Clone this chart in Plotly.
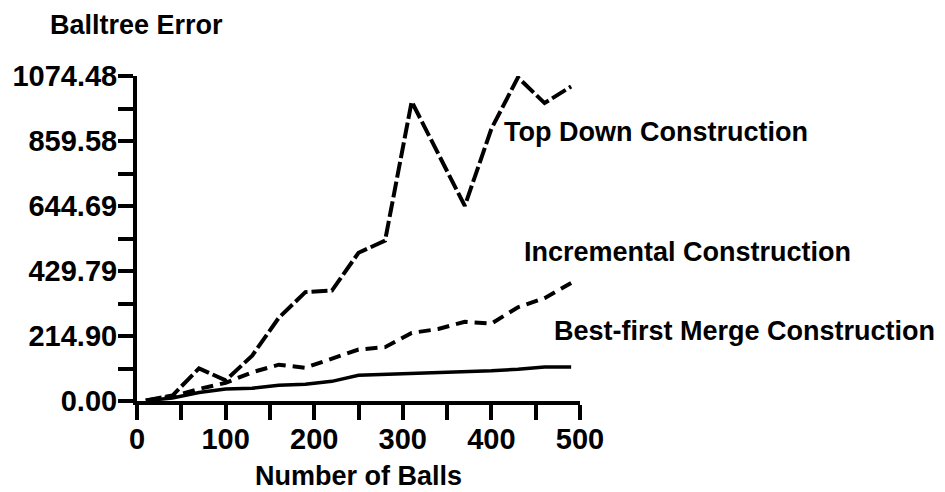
import plotly.graph_objects as go

# Data
balls = [10, 40, 70, 100, 130, 160, 190, 220, 250, 280, 310, 340, 370, 400, 430, 460, 490]
top_down = [2, 18, 108, 68, 150, 275, 360, 365, 490, 530, 990, 815, 645, 900, 1070, 985, 1040]
incremental = [2, 15, 40, 60, 95, 120, 110, 140, 170, 178, 225, 238, 262, 256, 310, 340, 390]
best_first = [1, 10, 28, 40, 42, 52, 55, 65, 85, 88, 90, 92, 95, 100, 105, 112, 112]

y_tick_vals = [0.0, 214.896, 429.792, 644.688, 859.584, 1074.48]
y_tick_text = ["0.00", "214.90", "429.79", "644.69", "859.58", "1074.48"]
y_minor_vals = [107.448, 322.344, 537.24, 752.136, 967.032]
x_tick_vals = [0, 100, 200, 300, 400, 500]
x_minor_vals = [50, 150, 250, 350, 450]

FONT = "Liberation Sans, Arial, Helvetica, sans-serif"
FS = 27
TFS = 29

fig = go.Figure()
fig.add_trace(go.Scatter(x=balls, y=top_down, mode="lines", name="Top Down Construction",
                         line=dict(color="black", width=4, dash="16px,4px")))
fig.add_trace(go.Scatter(x=balls, y=incremental, mode="lines", name="Incremental Construction",
                         line=dict(color="black", width=4, dash="12px,7px")))
fig.add_trace(go.Scatter(x=balls, y=best_first, mode="lines", name="Best-first Merge Construction",
                         line=dict(color="black", width=3.5)))

# page has an 8px body margin: figure is drawn at (8, 8)
OFF = 8
W, H = 945 - OFF, 492 - OFF
L, R, T, B = 137, 580, 76, 401  # plot area in page pixels

def px(xp):
    return (xp - L) / (R - L)

def py(yp):
    return (B - yp) / (B - T)

labels = [
    ("Top Down Construction", 502, 132),
    ("Incremental Construction", 522, 252),
    ("Best-first Merge Construction", 552, 331),
]
annotations = []
for txt, x0, y0 in labels:
    annotations.append(dict(text=txt, x=px(x0), y=py(y0), xref="paper", yref="paper",
                            xanchor="left", yanchor="middle", showarrow=False,
                            font=dict(family=FONT, size=FS, color="black", weight="bold")))
annotations.append(dict(text="Balltree Error", x=px(48), y=py(25), xref="paper", yref="paper",
                        xanchor="left", yanchor="middle", showarrow=False,
                        font=dict(family=FONT, size=FS, color="black", weight="bold")))
annotations.append(dict(text="Number of Balls", x=px(358), y=py(476), xref="paper", yref="paper",
                        xanchor="center", yanchor="middle", showarrow=False,
                        font=dict(family=FONT, size=FS, color="black", weight="bold")))

fig.update_layout(
    width=W, height=H,
    margin=dict(l=L - OFF, r=945 - R, t=T - OFF, b=492 - B, autoexpand=False),
    paper_bgcolor="white", plot_bgcolor="white",
    showlegend=False,
    annotations=annotations,
    font=dict(family=FONT, size=FS, color="black", weight="bold"),
    xaxis=dict(
        range=[0, 500], tickmode="array", tickvals=x_tick_vals, automargin=False,
        ticks="outside", ticklen=15, tickwidth=4, tickcolor="black", ticklabelstandoff=-6,
        showline=True, linewidth=4, linecolor="black", showgrid=False, zeroline=False,
        tickfont=dict(family=FONT, size=TFS, color="black", weight="bold"),
        minor=dict(tickmode="array", tickvals=x_minor_vals, ticks="outside", ticklen=15,
                   tickwidth=4, tickcolor="black", showgrid=False),
    ),
    yaxis=dict(
        range=[0, 1074.48], tickmode="array", tickvals=y_tick_vals, ticktext=y_tick_text,
        automargin=False,
        ticks="outside", ticklen=15, tickwidth=4, tickcolor="black", ticklabelstandoff=-5,
        showline=True, linewidth=4, linecolor="black", showgrid=False, zeroline=False,
        tickfont=dict(family=FONT, size=TFS, color="black", weight="bold"),
        minor=dict(tickmode="array", tickvals=y_minor_vals, ticks="outside", ticklen=15,
                   tickwidth=4, tickcolor="black", showgrid=False),
    ),
)

fig.write_html("out.html")
